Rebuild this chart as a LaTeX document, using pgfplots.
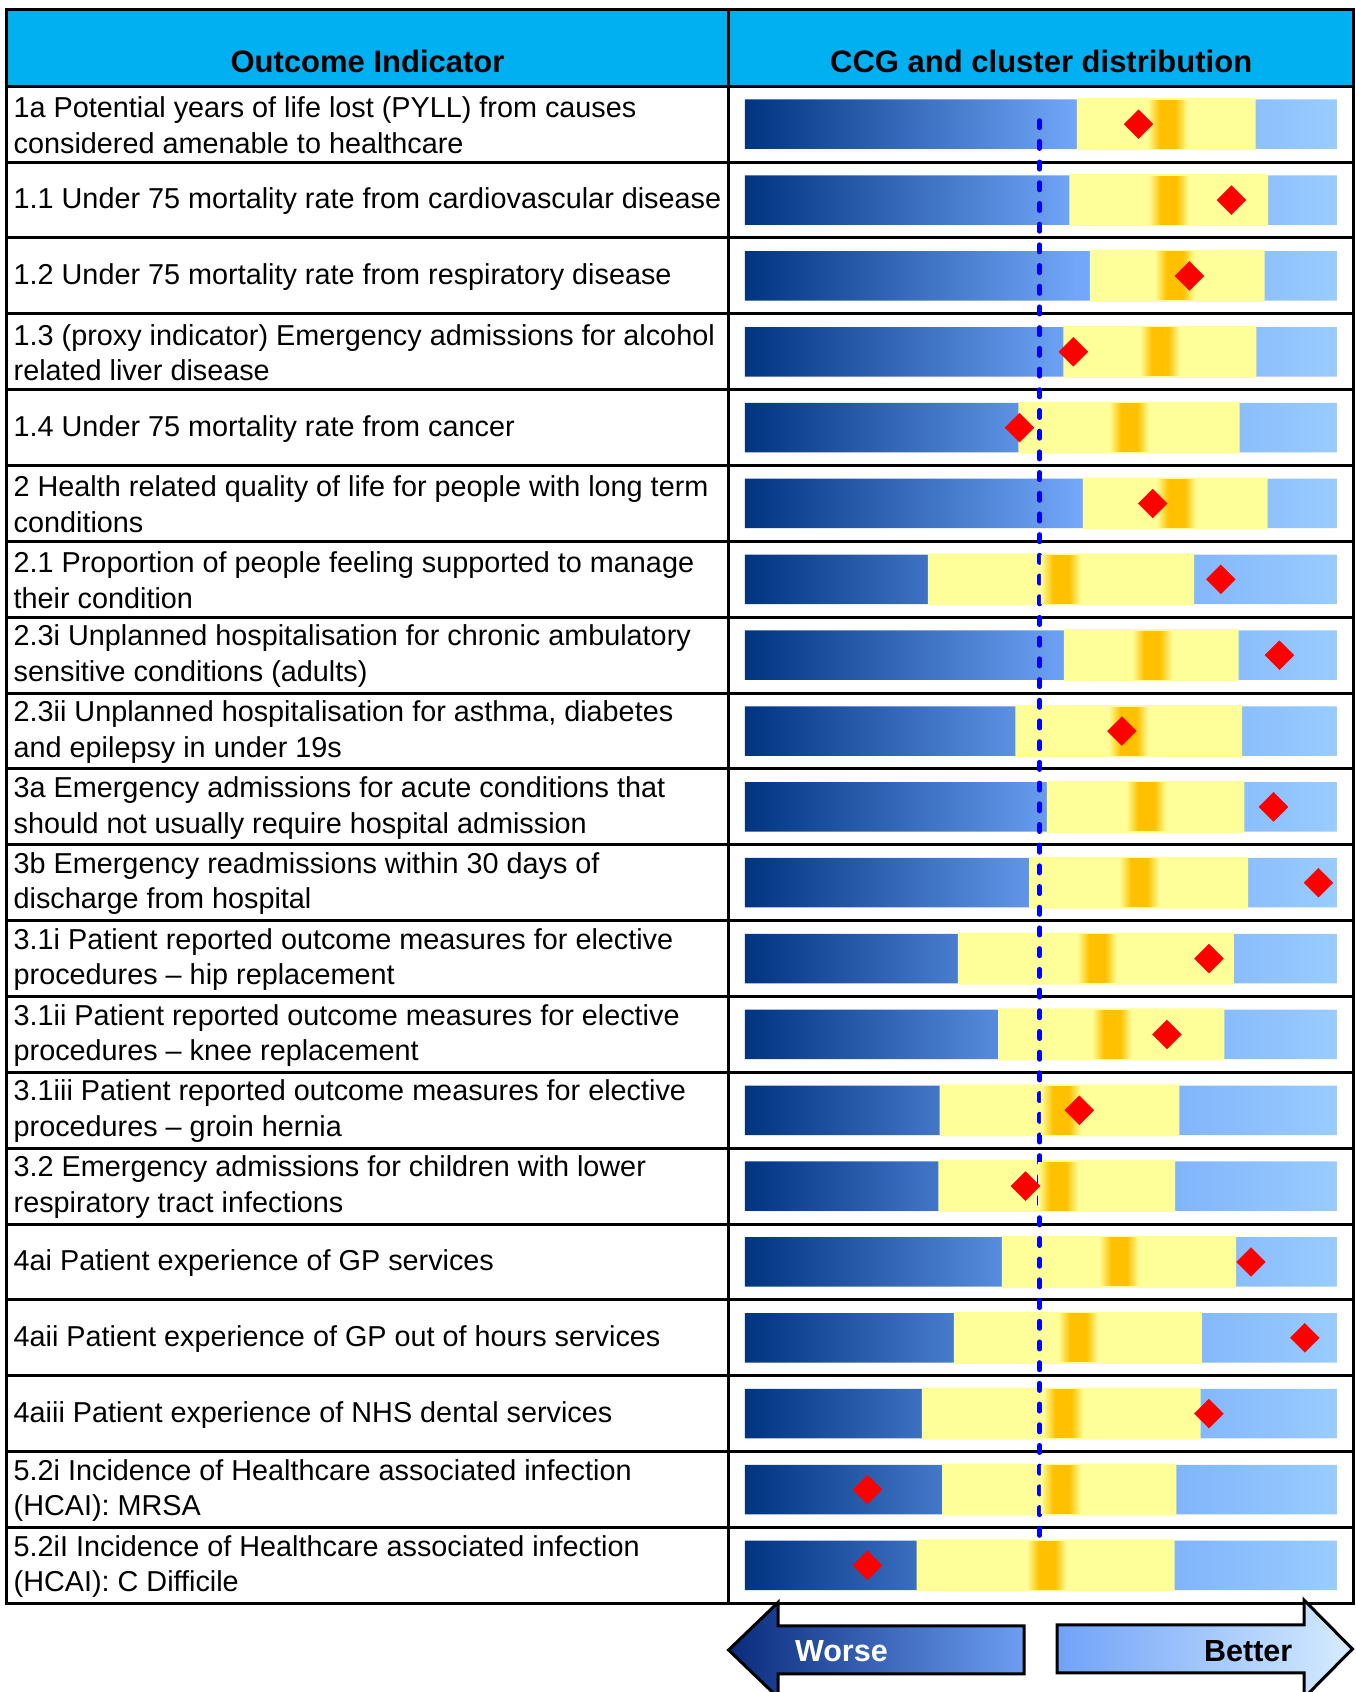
\documentclass[border=0pt]{standalone}
\usepackage{pgfplots}
\pgfplotsset{compat=1.18}
\usepackage{pgfplotstable}
\usepackage{fontspec}
\setmainfont{Liberation Sans}

\definecolor{hdr}{HTML}{00B0F0}
\definecolor{gb0}{HTML}{003380}
\definecolor{gb1}{HTML}{72A6F9}
\definecolor{gb2}{HTML}{99CCFF}
\definecolor{ylw}{HTML}{FFFF99}
\definecolor{org}{HTML}{FFC000}
\definecolor{wl}{HTML}{0A2B7C}
\definecolor{wr}{HTML}{6C9EF2}
\definecolor{bl}{HTML}{70A2F8}
\definecolor{br}{HTML}{D6ECFF}
\definecolor{dashblue}{HTML}{0000FF}

\pgfdeclarehorizontalshading{gbar}{100bp}{color(0bp)=(gb0); color(25bp)=(gb0); color(53bp)=(gb1); color(75bp)=(gb2); color(100bp)=(gb2)}
\pgfdeclarehorizontalshading{oband}{100bp}{color(0bp)=(ylw); color(25bp)=(ylw); color(40bp)=(org); color(60bp)=(org); color(75bp)=(ylw); color(100bp)=(ylw)}
\pgfdeclareplotmark{nothing}{}

\newcommand\rowfont{\fontsize{28.8pt}{35.6pt}\selectfont}
\newcommand\hdrfont{\fontsize{31pt}{36pt}\selectfont\bfseries}
\newcommand\arrfont{\fontsize{30.5pt}{36pt}\selectfont\bfseries}

% row: indicator row; a: start of cluster range (yellow); b: end of cluster range;
% m: cluster median (orange band); d: CCG value (red diamond)
\pgfplotstableread{
row a b m d
1 56.1 86.3 71.4 66.5
2 54.8 88.4 71.6 82.2
3 58.3 87.8 72.6 75.1
4 53.8 86.4 70.1 55.5
5 46.2 83.6 64.9 46.4
6 57.1 88.3 72.9 68.9
7 30.9 75.9 53.4 80.4
8 53.9 83.4 68.8 90.3
9 45.7 84.0 64.8 63.7
10 51.0 84.4 67.8 89.3
11 48.0 85.0 66.6 96.9
12 36.0 82.6 59.5 78.4
13 42.8 81.0 62.0 71.3
14 32.9 73.4 53.4 56.5
15 32.7 72.7 52.9 47.4
16 43.4 83.0 63.2 85.5
17 35.3 77.2 56.3 94.6
18 29.9 77.0 53.8 78.4
19 33.3 72.9 53.4 20.7
20 29.0 72.6 51.0 20.7
}\data

\pgfplotsset{rowaxis/.style={
  at={(744.9pt,1605.7pt)}, anchor=north west,
  scale only axis, width=591.9pt, height=1517pt,
  xmin=0, xmax=100, ymin=0.5, ymax=20.5, y dir=reverse,
  axis line style={draw=none}, tick style={draw=none},
  xtick=\empty, clip=false,
}}

\begin{document}
\begin{tikzpicture}[x=1pt,y=1pt]
\useasboundingbox (0,0) rectangle (1355,1692);
\clip (0,0) rectangle (1355,1692);
% header
\fill[hdr] (6.5,1682.7) rectangle (1353.7,1605.7);
% grid
\foreach \k in {0,...,19} \draw[line width=3pt] (6.5,{1605.7-75.85*\k}) -- (1353.7,{1605.7-75.85*\k});
\draw[line width=3pt] (6.5,88.7) rectangle (1353.7,1682.7);
\draw[line width=3pt] (728.6,88.7) -- (728.6,1682.7);
\node[font=\hdrfont, anchor=base] at (367.5,1619) {Outcome Indicator};
\node[font=\hdrfont, anchor=base] at (1041.2,1619) {CCG and cluster distribution};

% full-width background bars
\begin{axis}[rowaxis,
  ytick={1,...,20},
  yticklabels={
{1a Potential years of life lost (PYLL) from causes\\considered amenable to healthcare},
{1.1 Under 75 mortality rate from cardiovascular disease},
{1.2 Under 75 mortality rate from respiratory disease},
{1.3 (proxy indicator) Emergency admissions for alcohol\\related liver disease},
{1.4 Under 75 mortality rate from cancer},
{2 Health related quality of life for people with long term\\conditions},
{2.1 Proportion of people feeling supported to manage\\their condition},
{2.3i Unplanned hospitalisation for chronic ambulatory\\sensitive conditions (adults)},
{2.3ii Unplanned hospitalisation for asthma, diabetes\\and epilepsy in under 19s},
{3a Emergency admissions for acute conditions that\\should not usually require hospital admission},
{3b Emergency readmissions within 30 days of\\discharge from hospital},
{3.1i Patient reported outcome measures for elective\\procedures – hip replacement},
{3.1ii Patient reported outcome measures for elective\\procedures – knee replacement},
{3.1iii Patient reported outcome measures for elective\\procedures – groin hernia},
{3.2 Emergency admissions for children with lower\\respiratory tract infections},
{4ai Patient experience of GP services},
{4aii Patient experience of GP out of hours services},
{4aiii Patient experience of NHS dental services},
{5.2i Incidence of Healthcare associated infection\\(HCAI): MRSA},
{5.2iI Incidence of Healthcare associated infection\\(HCAI): C Difficile}},
  yticklabel style={anchor=west, align=left, inner sep=0pt, font=\rowfont, xshift=-731.4pt, yshift=-1pt},
]
\addplot[xbar, bar width=49.5pt, bar shift=0pt, draw=none, shading=gbar]
  coordinates {(100,1) (100,2) (100,3) (100,4) (100,5) (100,6) (100,7) (100,8) (100,9) (100,10)
               (100,11) (100,12) (100,13) (100,14) (100,15) (100,16) (100,17) (100,18) (100,19) (100,20)};
\end{axis}

% cluster range (yellow)
\begin{axis}[rowaxis, hide axis, xbar stacked, bar width=52pt]
\addplot[draw=none, fill=none] table[x=a, y=row] {\data};
\addplot[draw=none, fill=ylw] table[x expr=\thisrow{b}-\thisrow{a}, y=row] {\data};
\end{axis}

% median band, national line, CCG value
\begin{axis}[rowaxis, hide axis]
\addplot[only marks, mark=nothing, scatter,
  scatter/@pre marker code/.code={\shade[draw=none, shading=oband] (-20pt,-24pt) rectangle (20pt,24pt);},
  scatter/@post marker code/.code={}] table[x=m, y=row] {\data};
\addplot[draw=dashblue, mark=none, /tikz/line width=4.5pt, /tikz/dash pattern=on 7.5pt off 13.2pt, /tikz/line cap=round]
  coordinates {(49.8,0.95) (49.8,19.95)};
\addplot[only marks, mark=square*, mark size=10.2pt, color=red,
  mark options={rotate=45, draw=none, fill=red}] table[x=d, y=row] {\data};
\end{axis}

% arrows
\path[draw, line width=3pt, left color=wl, right color=wr]
  (728.6,42) -- (778,89.5) -- (778,66) -- (1024,66) -- (1024,18) -- (778,18) -- (778,-5.5) -- cycle;
\path[draw, line width=3pt, left color=bl, right color=br]
  (1057,67) -- (1304,67) -- (1304,92) -- (1352.4,43) -- (1304,-6) -- (1304,19) -- (1057,19) -- cycle;
\node[font=\arrfont, text=white, anchor=base] at (841.4,30.3) {Worse};
\node[font=\arrfont, anchor=base] at (1248.2,30.5) {Better};
\end{tikzpicture}
\end{document}
